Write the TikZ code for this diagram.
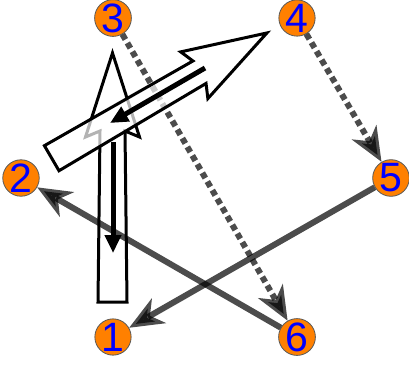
\documentclass[tikz,border=0pt]{standalone}
\usepackage{fontspec}
\setmainfont{Liberation Sans}
\usetikzlibrary{arrows.meta}
\definecolor{nodeorange}{RGB}{255,128,0}
\definecolor{edgegray}{RGB}{0,0,0}
\begin{document}
\begin{tikzpicture}[x=1pt,y=-1pt,
  numnode/.style={circle, fill=nodeorange, draw=black!65, line width=0.8pt,
    minimum size=36pt, inner sep=0pt, text=blue, font=\fontsize{41}{41}\selectfont},
  dotedge/.style={draw=edgegray, opacity=0.7, line width=6pt, dash pattern=on 6pt off 4pt,
    -{Stealth[length=34pt,width=28pt,inset=10pt]}},
  solidedge/.style={draw=edgegray, opacity=0.7, line width=6pt,
    -{Stealth[length=34pt,width=28pt,inset=10pt]}},
  bigarrow/.style={draw=black, line width=3pt, line join=miter},
  bigarrowfill/.style={bigarrow, fill=white, fill opacity=0.7, draw opacity=1},
  innerarrow/.style={draw=black, line width=5pt, -{Triangle[length=18pt,width=16pt]}}
]
\useasboundingbox (0,0) rectangle (409,365);

% nodes
\node[numnode] (n3) at (113,18) {3};
\node[numnode] (n4) at (297,18) {4};
\node[numnode] (n2) at (21,178) {2};
\node[numnode] (n5) at (391,178) {5};
\node[numnode] (n1) at (113,337) {1};
\node[numnode] (n6) at (297,337) {6};

% vertical big arrow (outline only)
\begin{scope}[shift={(112.5,302)}, rotate=90]
  \draw[bigarrow] (0,-14.5) -- (171,-12.5) -- (165,-27) -- (249,0) -- (165,27) -- (171,12.5) -- (0,14.5) -- cycle;
\end{scope}

% edges
\draw[dotedge] (n3) -- (n6);
\draw[dotedge] (n4) -- (n5);
\draw[solidedge] (n5) -- (n1);
\draw[solidedge] (n6) -- (n2);

% diagonal big arrow (semi-transparent white fill)
\begin{scope}[shift={(51.7,158.2)}, rotate=30.2]
  \draw[bigarrowfill] (0,-14.5) -- (171,-13) -- (165,-27) -- (249,0) -- (165,27) -- (171,13) -- (0,14.5) -- cycle;
\end{scope}

% inner arrows
\coordinate (va1) at (113,142);
\coordinate (va2) at (113,253);
\coordinate (da1) at (205,68);
\coordinate (da2) at (110,123);
\draw[innerarrow] (va1) -- (va2);
\draw[innerarrow] (da1) -- (da2);
\end{tikzpicture}
\end{document}
